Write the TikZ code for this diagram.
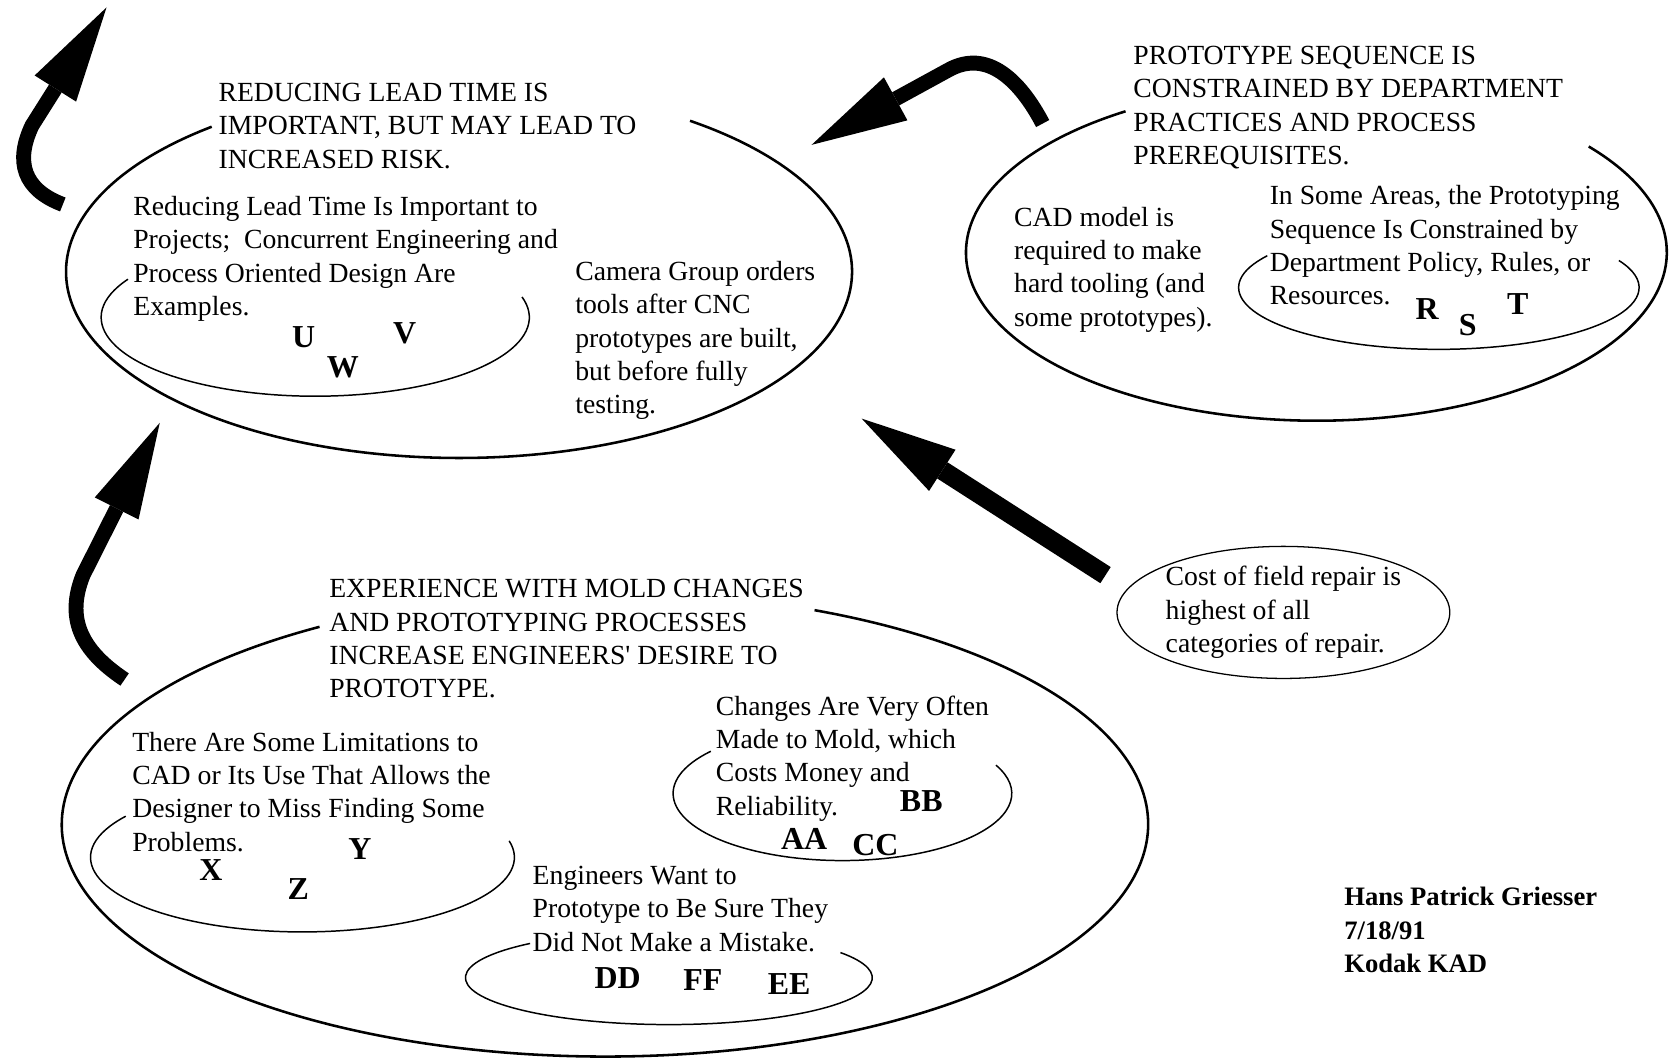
\documentclass[tikz,border=0pt]{standalone}
\usepackage{fontspec}
\setmainfont{Liberation Serif}
\usetikzlibrary{arrows.meta, shapes.geometric, positioning}

\begin{document}
\begin{tikzpicture}[
        x=1pt, y=1pt,
        font=\fontsize{26}{31.3}\selectfont,
        title/.style={anchor=north west, inner sep=0pt, align=left},
        note/.style={anchor=north west, inner sep=0pt, align=left},
        tag/.style={inner sep=0pt, font=\fontsize{30}{31.3}\selectfont\bfseries},
        loop/.style={line width=2.4pt},
        subloop/.style={line width=1.4pt},
        bigarrow/.style={line width=14pt, -{Triangle[length=90pt, width=46pt, line width=0pt]}}
    ]
        \useasboundingbox (0,0) rectangle (1568,-998);

        % 1. Lead time (top left)
        \coordinate (c_lead) at (431,-255);
        \coordinate (c_lead_in) at (296,-298);
        \draw[loop] (c_lead) ++(129:369 and 175) arc[start angle=129, end angle=414, x radius=369, y radius=175];
        \draw[subloop] (c_lead_in) ++(151:201 and 74) arc[start angle=151, end angle=375, x radius=201, y radius=74];
        \node[title] (lead) at (205,-78) {REDUCING LEAD TIME IS\\IMPORTANT, BUT MAY LEAD TO\\INCREASED RISK.};
        \node[note] (lead_a) at (125,-184) {Reducing Lead Time Is Important to\\Projects;\ \ Concurrent Engineering and\\Process Oriented Design Are\\Examples.};
        \node[note] (lead_b) at (540,-245) {Camera Group orders\\tools after CNC\\prototypes are built,\\but before fully\\testing.};
        \node[tag] (u) at (285,-317) {U};
        \node[tag] (w) at (322,-345) {W};
        \node[tag] (v) at (380,-313) {V};

        % 2. Prototype sequence (top right)
        \coordinate (c_seq) at (1236,-237);
        \coordinate (c_seq_in) at (1351,-270);
        \draw[loop] (c_seq) ++(123:329 and 158) arc[start angle=123, end angle=399, x radius=329, y radius=158];
        \draw[subloop] (c_seq_in) ++(149:188 and 58) arc[start angle=149, end angle=386, x radius=188, y radius=58];
        \node[title] (seq) at (1064,-43) {PROTOTYPE SEQUENCE IS\\CONSTRAINED BY DEPARTMENT\\PRACTICES AND PROCESS\\PREREQUISITES.};
        \node[note] (seq_a) at (952,-194) {CAD model is\\required to make\\hard tooling (and\\some prototypes).};
        \node[note] (seq_b) at (1192,-174) {In Some Areas, the Prototyping\\Sequence Is Constrained by\\Department Policy, Rules, or\\Resources.};
        \node[tag] (r) at (1340,-290) {R};
        \node[tag] (s) at (1378,-305) {S};
        \node[tag] (t) at (1425,-285) {T};

        % 3. Experience (bottom)
        \coordinate (c_exp) at (568,-774);
        \coordinate (c_cad) at (284,-805);
        \coordinate (c_mold) at (791,-745);
        \coordinate (c_sure) at (628,-918);
        \draw[loop] (c_exp) ++(121.7:510 and 218) arc[start angle=121.7, end angle=427.3, x radius=510, y radius=218];
        \draw[subloop] (c_cad) ++(146.5:199 and 70) arc[start angle=146.5, end angle=372.8, x radius=199, y radius=70];
        \draw[subloop] (c_mold) ++(141:159 and 63) arc[start angle=141, end angle=385, x radius=159, y radius=63];
        \draw[subloop] (c_sure) ++(133:191 and 44) arc[start angle=133, end angle=392.5, x radius=191, y radius=44];
        \node[title] (exp) at (309,-544) {EXPERIENCE WITH MOLD CHANGES\\AND PROTOTYPING PROCESSES\\INCREASE ENGINEERS\textquotesingle\ DESIRE TO\\PROTOTYPE.};
        \node[note] (cad) at (124,-687) {There Are Some Limitations to\\CAD or Its Use That Allows the\\Designer to Miss Finding Some\\Problems.};
        \node[note] (mold) at (672,-653) {Changes Are Very Often\\Made to Mold, which\\Costs Money and\\Reliability.};
        \node[note] (sure) at (500,-813) {Engineers Want to\\Prototype to Be Sure They\\Did Not Make a Mistake.};
        \node[tag] (x) at (198,-817) {X};
        \node[tag] (y) at (338,-797) {Y};
        \node[tag] (z) at (280,-835) {Z};
        \node[tag] (bb) at (865,-752) {BB};
        \node[tag] (aa) at (755,-788) {AA};
        \node[tag] (cc) at (822,-793) {CC};
        \node[tag] (dd) at (580,-918) {DD};
        \node[tag] (ff) at (660,-920) {FF};
        \node[tag] (ee) at (741,-924) {EE};

        % 4. Field repair + author
        \node[draw, ellipse, line width=1.2pt, minimum width=298pt, minimum height=124pt, inner sep=0pt, align=left] (repair) at (1205,-575) {Cost of field repair is\\highest of all\\categories of repair.};
        \node[note, font=\fontsize{25}{31.3}\selectfont\bfseries] (sig) at (1262,-833) {Hans Patrick Griesser\\7/18/91\\Kodak KAD};

        % Big arrows
        \coordinate (a1_from) at (59,-192);
        \coordinate (a1_to) at (100,-7);
        \coordinate (a2_from) at (979,-116);
        \coordinate (a2_to) at (762,-136);
        \coordinate (a3_from) at (117,-638);
        \coordinate (a3_to) at (150,-397);
        \coordinate (a4_from) at (1038,-540);
        \coordinate (a4_to) at (809,-393);
        \draw[bigarrow] (a1_from) .. controls (22,-178) and (14,-152) .. (30,-118) -- (a1_to);
        \draw[bigarrow] (a2_from) .. controls (958,-76) and (927,-45) .. (890,-66) -- (a2_to);
        \draw[bigarrow] (a3_from) .. controls (75,-610) and (62,-580) .. (78,-540) -- (a3_to);
        \draw[bigarrow, line width=18pt] (a4_from) -- (a4_to);

\end{tikzpicture}
\end{document}
